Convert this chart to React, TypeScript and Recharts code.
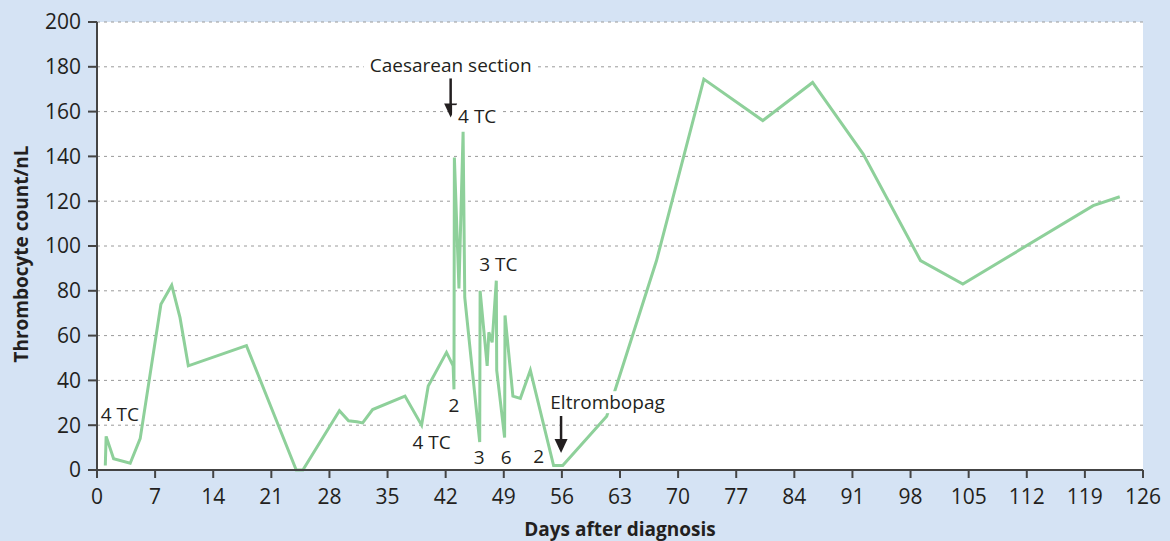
import React from 'react';
import { LineChart, Line, XAxis, YAxis, CartesianGrid, ReferenceDot, ReferenceLine } from 'recharts';

// Days after diagnosis and thrombocyte counts (/nL)
const days = [1, 1.1, 2, 4, 5.2, 7.7, 9, 10, 11, 18, 24, 24.8, 29.2, 30.3, 31.3, 32, 33.2, 37.1, 39.1, 39.9, 42.1, 42.9, 43, 43.05, 43.6, 44.1, 44.3, 46.1, 46.15, 47, 47.2, 47.6, 48.1, 48.15, 49.1, 49.15, 50.1, 51, 52.2, 55, 56.1, 61.4, 67.4, 73.1, 80.2, 86.2, 92.3, 99.2, 104.3, 120, 123.2];
const counts = [2, 15, 5, 3, 14, 74, 82.5, 68, 46.5, 55.5, 0, 0, 26.5, 22, 21.5, 21, 27, 33, 20, 37.5, 52.5, 46.5, 36, 139.5, 81, 151, 77, 12.5, 80, 46.5, 61.5, 57, 84.5, 44.5, 14.5, 69, 33, 32, 44.5, 2, 2, 24, 93.5, 174.5, 156, 173, 141, 93.5, 83, 118, 122];

const xTicks = [0, 7, 14, 21, 28, 35, 42, 49, 56, 63, 70, 77, 84, 91, 98, 105, 112, 119, 126];
const yTicks = [0, 20, 40, 60, 80, 100, 120, 140, 160, 180, 200];

// Annotations (text centres in data coordinates)
const noteTexts = ['4 TC', 'Caesarean section', '4 TC', '4 TC', '2', '3 TC', '3', '6', '2', 'Eltrombopag'];
const noteDays = [2.75, 42.6, 45.8, 40.3, 43.0, 48.35, 46.05, 49.3, 53.2, 61.5];
const noteValues = [25, 180.6, 157.9, 12.6, 29, 91.7, 5.9, 5.9, 6.2, 30.2];
const noteBackground = [false, true, true, false, false, false, false, false, false, true];

// Arrows (day, start value, tip value)
const arrowDays = [42.6, 55.9];
const arrowFrom = [174.8, 24.1];
const arrowTo = [157.4, 7.6];

const data = days.map((d, i) => ({ day: d, count: counts[i] }));

const FONT = '"Open Sans", sans-serif';
const TEXT = '#231f20';

function NoteShape(props: any) {
  const { cx, cy, text, bg } = props;
  const ref = React.useRef<SVGTextElement>(null);
  const [box, setBox] = React.useState<{ x: number; y: number; w: number; h: number } | null>(null);
  React.useLayoutEffect(() => {
    if (ref.current && bg) {
      const b = ref.current.getBBox();
      setBox({ x: b.x, y: b.y, w: b.width, h: b.height });
    }
  }, [cx, cy, text, bg]);
  const fs = 19;
  return (
    <g>
      {bg && box && <rect x={box.x - 6} y={box.y + 2} width={box.w + 12} height={box.h - 4} fill="#fff" />}
      <text ref={ref} x={cx} y={cy + fs * 0.36} textAnchor="middle" fontSize={fs} fill={TEXT} fontFamily={FONT}>
        {text}
      </text>
    </g>
  );
}

function ArrowHead(props: any) {
  const { cx, cy } = props;
  return <polygon points={`${cx - 6.5},${cy - 14} ${cx + 6.5},${cy - 14} ${cx},${cy}`} fill={TEXT} />;
}

export default function App() {
  return (
    <div style={{ position: 'absolute', left: 0, top: 0, width: 1170, height: 541, background: '#d5e3f4' }}>
      <LineChart
        width={1170}
        height={541}
        data={data}
        margin={{ top: 22, right: 27, bottom: 0, left: 0 }}
        style={{ fontFamily: FONT }}
      >
        <CartesianGrid vertical={false} stroke="#9a9a9a" strokeDasharray="3 4" fill="#ffffff" />
        <XAxis
          dataKey="day"
          type="number"
          domain={[0, 126]}
          ticks={xTicks}
          interval={0}
          height={71}
          tickSize={8}
          tickMargin={11}
          stroke="#444"
          strokeWidth={2}
          tick={{ fill: TEXT, fontSize: 21, fontFamily: FONT }}
          label={(p: any) => {
            const vb = p.viewBox;
            return (
              <text x={vb.x + vb.width / 2} y={vb.y + 66} textAnchor="middle" fontSize={19} fontWeight="bold" fill={TEXT} fontFamily={FONT}>
                Days after diagnosis
              </text>
            );
          }}
        />
        <YAxis
          type="number"
          domain={[0, 200]}
          ticks={yTicks}
          interval={0}
          width={97}
          tickSize={9}
          tickMargin={7}
          stroke="#444"
          strokeWidth={2}
          tick={{ fill: TEXT, fontSize: 21, fontFamily: FONT }}
          label={(p: any) => {
            const vb = p.viewBox;
            const cx = 28;
            const cy = vb.y + vb.height / 2 + 8;
            return (
              <text x={cx} y={cy} transform={`rotate(-90 ${cx} ${cy})`} textAnchor="middle" fontSize={19} fontWeight="bold" fill={TEXT} fontFamily={FONT}>
                Thrombocyte count/nL
              </text>
            );
          }}
        />
        <Line
          type="linear"
          dataKey="count"
          stroke="#8ed09a"
          strokeWidth={3}
          dot={false}
          activeDot={false}
          isAnimationActive={false}
        />
        {arrowDays.map((d, i) => (
          <ReferenceLine
            key={'al' + i}
            segment={[{ x: d, y: arrowFrom[i] }, { x: d, y: arrowTo[i] + 5 }]}
            stroke={TEXT}
            strokeWidth={2.5}
          />
        ))}
        {arrowDays.map((d, i) => (
          <ReferenceDot key={'ah' + i} x={d} y={arrowTo[i]} r={0} shape={(p: any) => <ArrowHead {...p} />} />
        ))}
        {noteTexts.map((t, i) => (
          <ReferenceDot
            key={'n' + i}
            x={noteDays[i]}
            y={noteValues[i]}
            r={0}
            shape={(p: any) => <NoteShape {...p} text={t} bg={noteBackground[i]} />}
          />
        ))}
      </LineChart>
    </div>
  );
}
